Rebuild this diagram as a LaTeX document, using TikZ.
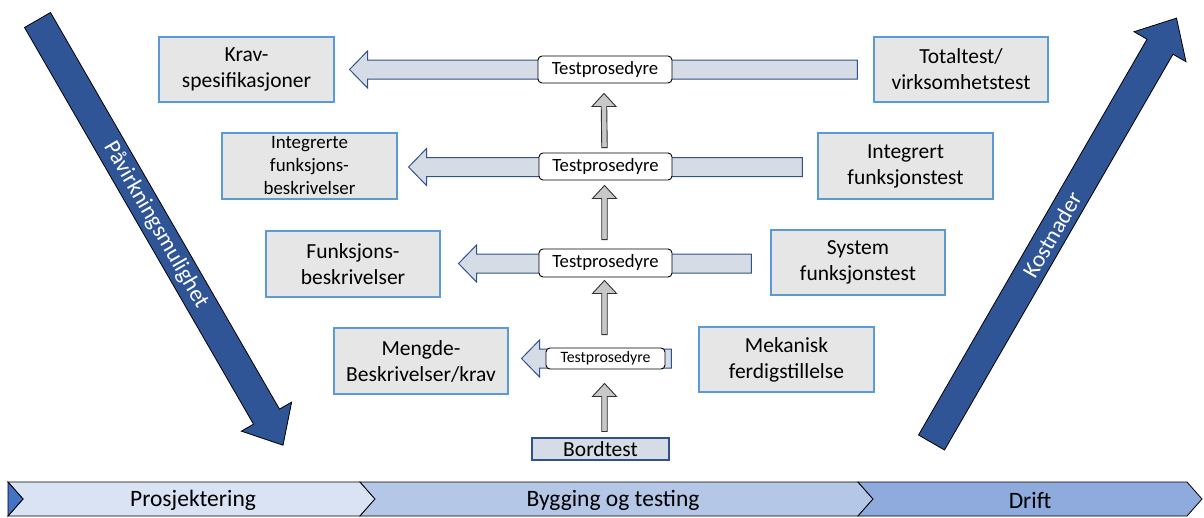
\documentclass[tikz,border=0pt]{standalone}
\usepackage{fontspec}
\setmainfont{Carlito}
\usetikzlibrary{calc}

\definecolor{boxfill}{HTML}{E7E6E6}
\definecolor{boxline}{HTML}{5B9BD5}
\definecolor{arrfill}{HTML}{D6DCE5}
\definecolor{arrline}{HTML}{2F528F}
\definecolor{bigblue}{HTML}{2F5597}
\definecolor{phaseA}{HTML}{DAE3F3}
\definecolor{phaseB}{HTML}{B4C7E7}
\definecolor{phaseC}{HTML}{8FAADC}
\definecolor{notch}{HTML}{4472C4}
\definecolor{upfill}{HTML}{C8C8C8}

\tikzset{
  docbox/.style={draw=boxline, line width=1.1pt, fill=boxfill, align=center,
    inner sep=0pt, font=\fontsize{21.5}{26}\selectfont},
  procbox/.style={draw=black, line width=0.9pt, fill=white, rounded corners=4pt,
    inner sep=0pt, font=\fontsize{18.7}{22}\selectfont},
  harrow/.style={draw=arrline, line width=1pt, fill=arrfill, line join=miter},
  uarrow/.style={draw=black!80, line width=0.9pt, fill=upfill, line join=miter},
  bigarrow/.style={draw=black, line width=0.8pt, fill=bigblue, line join=miter},
  phase/.style={draw=black, line width=0.8pt},
  phasetext/.style={font=\fontsize{23.5}{28}\selectfont},
  slanttext/.style={text=white, font=\fontsize{23}{28}\selectfont}
}

% block arrow pointing left: #1 tip, #2 end of the shaft
\newcommand{\harr}[2]{%
  \draw[harrow] (#1) -- ++(18,-18.5) -- ++(0,9) -- ($(#2)+(0,-9.5)$)
    -- ($(#2)+(0,9.5)$) -- ($(#1)+(18,9.5)$) -- ++(0,9) -- cycle;}
% thin arrow pointing up: #1 foot, #2 tip
\newcommand{\varr}[2]{%
  \draw[uarrow] ($(#1)+(-2.75,0)$) -- ($(#2)+(-2.75,13)$) -- ($(#2)+(-12,13)$)
    -- (#2) -- ($(#2)+(12,13)$) -- ($(#2)+(2.75,13)$) -- ($(#1)+(2.75,0)$) -- cycle;}

\begin{document}
\begin{tikzpicture}[x=1pt,y=-1pt]
\useasboundingbox (0,0) rectangle (1204,517);

% ---- diagonal arrows ----
\begin{scope}[shift={(37.5,20)}, rotate=-60]
  \draw[bigarrow] (0,-15) -- (458,-15) -- (458,-29) -- (491,0) -- (458,29)
    -- (458,15) -- (0,15) -- cycle;
\end{scope}
\node[slanttext, rotate=-60] (infl) at (156,225) {Påvirkningsmulighet};

\begin{scope}[shift={(931.5,442.5)}, rotate=60]
  \draw[bigarrow] (0,-15) -- (457,-15) -- (457,-30) -- (490,0) -- (457,30)
    -- (457,15) -- (0,15) -- cycle;
\end{scope}
\node[slanttext, rotate=60] (cost) at (1052,235) {Kostnader};

% ---- document boxes (left) and test boxes (right) ----
\node[docbox, minimum width=175, minimum height=65] (krav) at (246.5,69.5) {Krav-\\spesifikasjoner};
\node[docbox, minimum width=174, minimum height=65] (total) at (961,69.5) {Totaltest/\\virksomhetstest};
\node[docbox, minimum width=175, minimum height=66, font=\fontsize{18.9}{23}\selectfont] (integ) at (309.5,166) {Integrerte\\funksjons-\\beskrivelser};
\node[docbox, minimum width=175, minimum height=66] (integt) at (905.5,166) {Integrert\\funksjonstest};
\node[docbox, minimum width=174, minimum height=66] (funk) at (353,264) {Funksjons-\\beskrivelser};
\node[docbox, minimum width=174, minimum height=65] (syst) at (858,262.5) {System\\funksjonstest};
\node[docbox, minimum width=174, minimum height=66] (mengde) at (421,361) {Mengde-\\Beskrivelser/krav};
\node[docbox, minimum width=175, minimum height=65] (mek) at (786.5,359.5) {Mekanisk\\ferdigstillelse};

% ---- anchors of the horizontal arrows ----
\coordinate (y1) at (605,69.5);
\coordinate (y2) at (605,167);
\coordinate (y3) at (605,263.5);
\coordinate (y4) at (605,358.5);
\coordinate (h1a) at ($(krav.east |- y1)+(15,0)$);
\coordinate (h1b) at ($(total.west |- y1)+(-16,0)$);
\coordinate (h2a) at ($(integ.east |- y2)+(11,0)$);
\coordinate (h2b) at ($(integt.west |- y2)+(-15,0)$);
\coordinate (h3a) at ($(funk.east |- y3)+(18,0)$);
\coordinate (h3b) at ($(syst.west |- y3)+(-19,0)$);
\coordinate (h4a) at ($(mengde.east |- y4)+(13,0)$);
\coordinate (h4b) at ($(mek.west |- y4)+(-27,0)$);
\harr{h1a}{h1b}
\harr{h2a}{h2b}
\harr{h3a}{h3b}
\harr{h4a}{h4b}

% ---- test procedure boxes ----
\node[procbox, minimum width=134, minimum height=27] (tp1) at (605,69.5) {Testprosedyre};
\node[procbox, minimum width=133, minimum height=27] (tp2) at (605.5,166.5) {Testprosedyre};
\node[procbox, minimum width=133, minimum height=28] (tp3) at (605.5,263) {Testprosedyre};
\node[procbox, minimum width=119, minimum height=21, font=\fontsize{15.8}{19}\selectfont] (tp4) at (605.5,358.5) {Testprosedyre};
\node[docbox, draw=arrline, fill=arrfill, minimum width=137, minimum height=22] (bord) at (600.5,449) {Bordtest};

% ---- upward arrows ----
\coordinate (u1b) at ($(tp2.north)+(-1,-5)$);  \coordinate (u1t) at ($(tp1.south)+(-1,10)$);
\coordinate (u2b) at ($(tp3.north)+(-1,-9)$);  \coordinate (u2t) at ($(tp2.south)+(-1,5)$);
\coordinate (u3b) at ($(tp4.north)+(-1,-13)$); \coordinate (u3t) at ($(tp3.south)+(-1,3)$);
\coordinate (u4b) at ($(tp4.south |- bord.north)+(-1,-6)$); \coordinate (u4t) at ($(tp4.south)+(-1,14)$);
\varr{u1b}{u1t}
\varr{u2b}{u2t}
\varr{u3b}{u3t}
\varr{u4b}{u4t}

% ---- phase bar ----
\draw[phase, fill=phaseA] (8,482) -- (360,482) -- (375,499) -- (360,516) -- (8,516) -- (23,499) -- cycle;
\draw[phase, fill=notch] (8,482) -- (23,499) -- (8,516) -- cycle;
\draw[phase, fill=phaseB] (360,482) -- (858,482) -- (873,499) -- (858,516) -- (360,516) -- (375,499) -- cycle;
\draw[phase, fill=phaseC] (858,482) -- (1187,482) -- (1202,499) -- (1187,516) -- (858,516) -- (873,499) -- cycle;
\node[phasetext] (p1) at (193,500) {Prosjektering};
\node[phasetext] (p2) at (613,500) {Bygging og testing};
\node[phasetext] (p3) at (1030,500) {Drift};
\end{tikzpicture}
\end{document}
